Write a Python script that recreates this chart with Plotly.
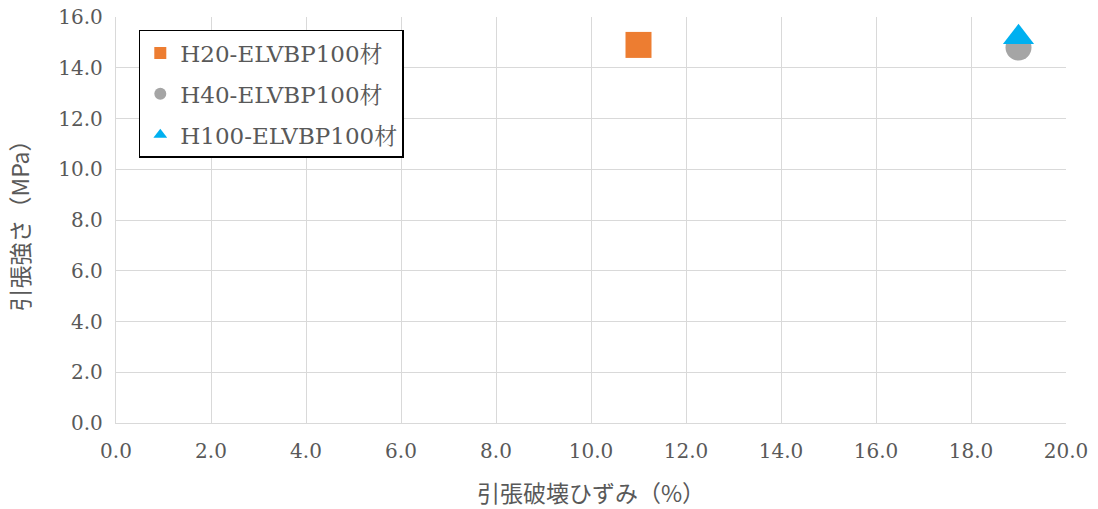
import plotly.graph_objects as go

# Specimen results: tensile strain at break (%) vs tensile strength (MPa)
series_names = ["H20-ELVBP100材", "H40-ELVBP100材", "H100-ELVBP100材"]
strain_pct = [[11.0], [19.0], [19.0]]
strength_mpa = [[14.9], [14.8], [15.2]]
marker_symbols = ["square", "circle", "triangle-up"]
marker_colors = ["#ED7D31", "#A5A5A5", "#00B0F0"]
marker_sizes = [26, 26, 27]

x_ticks = [0, 2, 4, 6, 8, 10, 12, 14, 16, 18, 20]
y_ticks = [0, 2, 4, 6, 8, 10, 12, 14, 16]

serif = "DejaVu Serif, Noto Serif CJK JP, Noto Sans CJK JP, serif"
text_grey = "#595959"

fig = go.Figure()
for i, (name, xs, ys, sym, col, sz) in enumerate(zip(
        series_names, strain_pct, strength_mpa,
        marker_symbols, marker_colors, marker_sizes)):
    fig.add_trace(go.Scatter(
        x=xs, y=ys, mode="markers", name=name, legendgroup=f"g{i}",
        marker=dict(symbol=sym, color=col, size=sz, line=dict(width=0)),
    ))

axis_common = dict(
    showgrid=True, gridcolor="#D9D9D9", gridwidth=1.3,
    zeroline=False, showline=True, linecolor="#D9D9D9", linewidth=1.3,
    ticks="", tickfont=dict(family=serif, size=20, color=text_grey),
    mirror=False, automargin=False,
)

fig.update_layout(
    width=1098, height=509,
    margin=dict(l=116, r=32, t=17, b=86),
    paper_bgcolor="white", plot_bgcolor="white",
    showlegend=True,
    legend=dict(
        x=0.024, y=0.968, xanchor="left", yanchor="top",
        bgcolor="white", bordercolor="black", borderwidth=1.5,
        font=dict(family=serif, size=23, color=text_grey),
        itemsizing="constant", tracegroupgap=8,
    ),
    xaxis=dict(
        range=[0, 20], tickvals=x_ticks,
        ticktext=[f"{v:.1f}" for v in x_ticks],
        title=dict(text="引張破壊ひずみ（%）",
                   font=dict(family="Noto Sans CJK JP", size=23, color=text_grey),
                   standoff=24),
        ticklabelstandoff=10,
        **axis_common,
    ),
    yaxis=dict(
        range=[0, 16], tickvals=y_ticks,
        ticktext=[f"{v:.1f}" for v in y_ticks],
        title=dict(text="引張強さ（MPa）",
                   font=dict(family="Noto Sans CJK JP", size=23, color=text_grey),
                   standoff=22),
        ticklabelstandoff=8,
        **axis_common,
    ),
)

fig.write_html("out.html")
